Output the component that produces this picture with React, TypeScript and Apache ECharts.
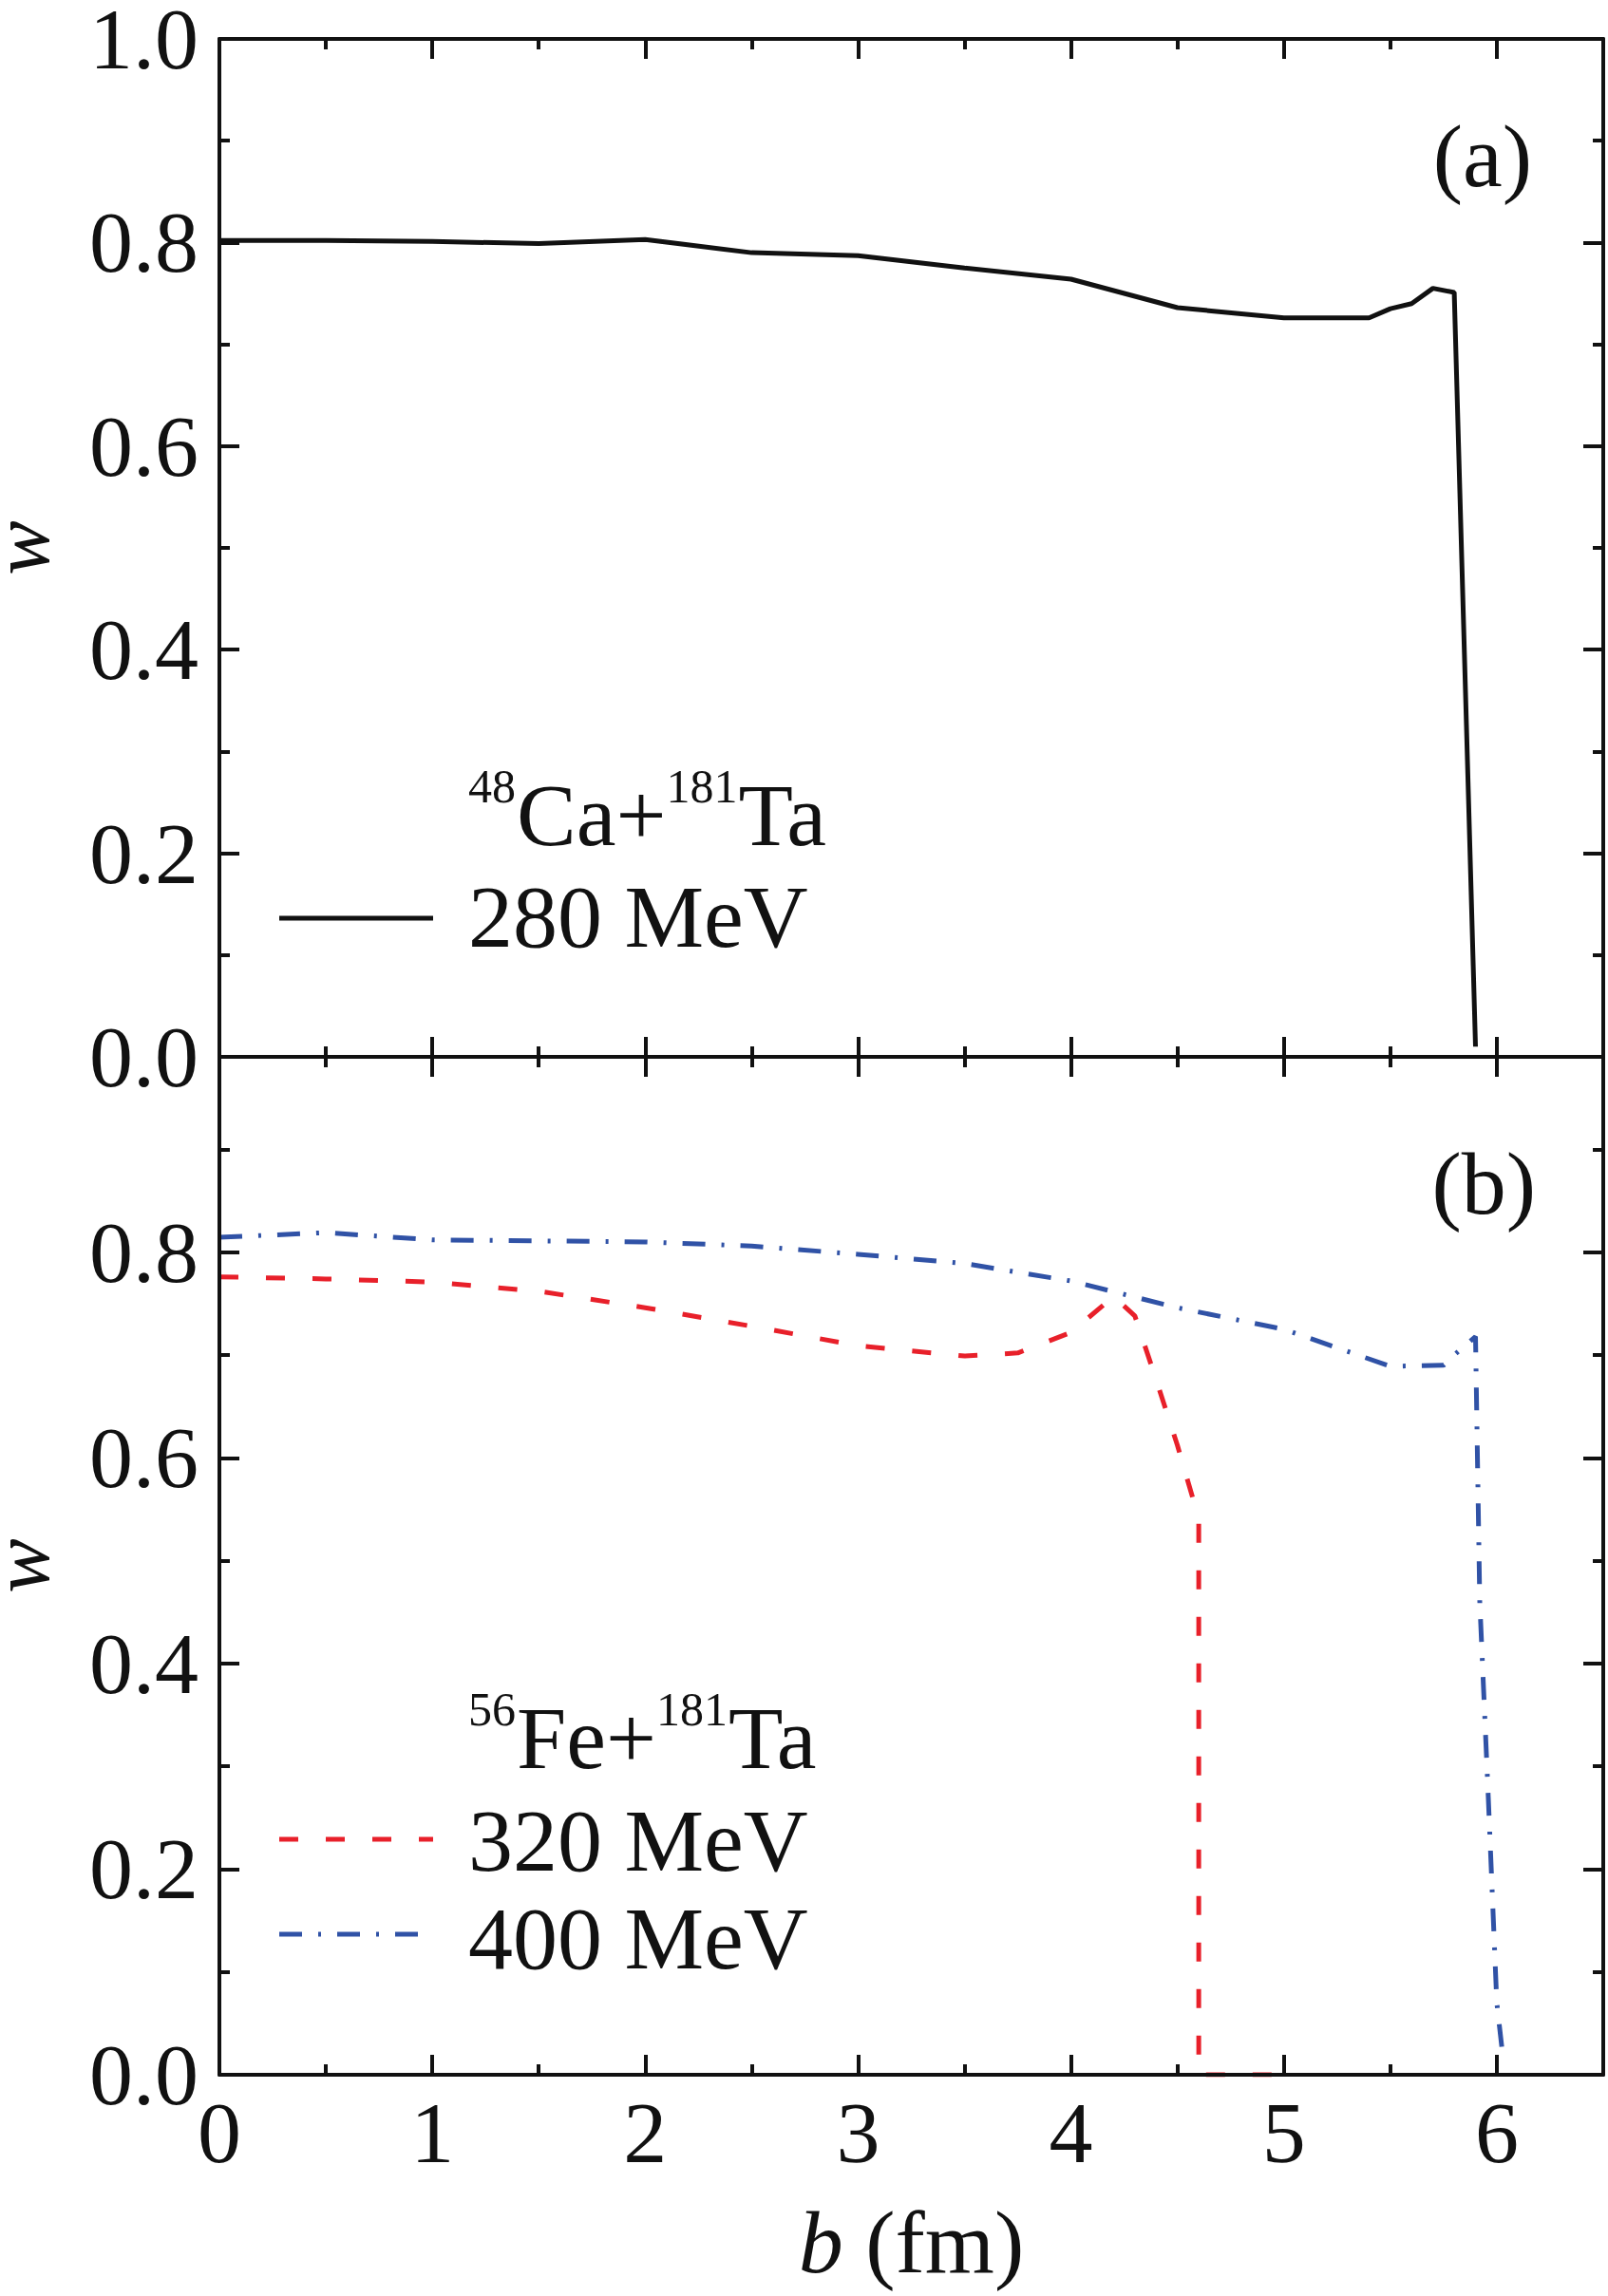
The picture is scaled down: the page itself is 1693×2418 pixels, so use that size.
import React, { useEffect, useRef } from 'react';
import * as echarts from 'echarts';

const FONT = '"Liberation Serif", "Times New Roman", Times, serif';
const INK = '#111111';
const RED = '#E8202A';
const BLUE = '#3052A6';

// Panel (a): 48Ca + 181Ta, 280 MeV
const bA280 = [0, 0.5, 1, 1.5, 2, 2.5, 3, 3.5, 4, 4.5, 5, 5.4, 5.5, 5.6, 5.7, 5.8, 5.9];
const wA280 = [0.802, 0.802, 0.801, 0.799, 0.803, 0.79, 0.787, 0.775, 0.764, 0.736, 0.726, 0.726, 0.735, 0.74, 0.755, 0.751, 0.01];

// Panel (b): 56Fe + 181Ta, 320 MeV
const bB320 = [0, 0.5, 1, 1.5, 2, 2.5, 3, 3.5, 3.75, 4, 4.2, 4.3, 4.4, 4.5, 4.6, 4.6, 4.8, 5.0];
const wB320 = [0.776, 0.774, 0.771, 0.762, 0.746, 0.728, 0.709, 0.699, 0.702, 0.722, 0.757, 0.738, 0.676, 0.612, 0.541, 0, 0, 0];

// Panel (b): 56Fe + 181Ta, 400 MeV
const bB400 = [0, 0.5, 1, 1.5, 2, 2.5, 3, 3.5, 4, 4.5, 5, 5.5, 5.75, 5.8, 5.9, 5.92, 5.96, 6.0, 6.03];
const wB400 = [0.8145, 0.819, 0.812, 0.811, 0.81, 0.806, 0.798, 0.789, 0.772, 0.746, 0.725, 0.689, 0.69, 0.7, 0.718, 0.46, 0.27, 0.07, 0.015];

const yTicksA = [0, 0.2, 0.4, 0.6, 0.8, 1.0];
const yTicksB = [0, 0.2, 0.4, 0.6, 0.8];
const xMax = 6.5;
const yMaxA = 1.0;
const yMaxB = 0.99;

const axisLineCfg = { show: true, onZero: false, lineStyle: { color: INK, width: 4 } };
const tickCfg = { show: true, inside: true, length: 21, lineStyle: { color: INK, width: 4 } };
const minorCfg = { show: true, splitNumber: 2, length: 11, lineStyle: { color: INK, width: 4 } };

function xAxisCfg(gridIndex: number, position: string, showLabel: boolean, withName: boolean) {
  return {
    type: 'value',
    gridIndex,
    position,
    min: 0,
    max: xMax,
    interval: 1,
    z: 5,
    axisLine: axisLineCfg,
    axisTick: tickCfg,
    minorTick: minorCfg,
    splitLine: { show: false },
    axisLabel: showLabel
      ? {
          show: true,
          margin: 21,
          fontSize: 92,
          lineHeight: 80,
          fontFamily: FONT,
          color: INK,
          showMaxLabel: false,
          formatter: (v: number) => String(v),
        }
      : { show: false },
    name: withName ? '{i|b} (fm)' : '',
    nameLocation: 'middle',
    nameGap: 136,
    nameTextStyle: {
      fontSize: 94,
      lineHeight: 80,
      fontFamily: FONT,
      color: INK,
      rich: { i: { fontStyle: 'italic', fontSize: 94, lineHeight: 80, fontFamily: FONT, color: INK } },
    },
  };
}

function yAxisCfg(gridIndex: number, position: string, max: number, ticks: number[], showLabel: boolean) {
  return {
    type: 'value',
    gridIndex,
    position,
    min: 0,
    max,
    interval: 0.2,
    z: 5,
    axisLine: axisLineCfg,
    axisTick: { ...tickCfg, customValues: ticks },
    minorTick: minorCfg,
    splitLine: { show: false },
    axisLabel: showLabel
      ? {
          show: true,
          customValues: ticks,
          margin: 22,
          fontSize: 92,
          lineHeight: 72,
          fontFamily: FONT,
          color: INK,
          formatter: (v: number) => v.toFixed(1),
        }
      : { show: false },
    name: showLabel ? 'w' : '',
    nameLocation: 'middle',
    nameGap: 194,
    nameTextStyle: { fontSize: 86, lineHeight: 30, fontStyle: 'italic', fontFamily: FONT, color: INK },
  };
}

function measure(text: string, size: number): number {
  const ctx = document.createElement('canvas').getContext('2d');
  if (!ctx) return text.length * size * 0.5;
  ctx.font = `${size}px "Liberation Serif"`;
  return ctx.measureText(text).width;
}

const MAIN = 94;
const SUP = 50;
const SUP_RISE = 30;

function heading(parts: [string, boolean][], x0: number, yMid: number) {
  const els: any[] = [];
  let x = x0;
  for (const [t, sup] of parts) {
    const size = sup ? SUP : MAIN;
    els.push({
      type: 'text',
      x,
      y: sup ? yMid - SUP_RISE : yMid,
      style: {
        text: t,
        fontSize: size,
        lineHeight: sup ? 30 : 66,
        fontFamily: FONT,
        fill: INK,
        align: 'left',
        verticalAlign: 'middle',
      },
    });
    x += measure(t, size) + (sup ? 1 : 0);
  }
  return els;
}

function label(text: string, x: number, y: number, align = 'left') {
  return {
    type: 'text',
    x,
    y,
    style: { text, fontSize: MAIN, lineHeight: 66, fontFamily: FONT, fill: INK, align, verticalAlign: 'middle' },
  };
}

function sample(y: number, color: string, dash: number[] | null, x1 = 294, x2 = 456) {
  return {
    type: 'line',
    shape: { x1, y1: y, x2, y2: y },
    style: { stroke: color, lineWidth: 5, lineDash: dash || undefined },
  };
}

export default function App() {
  const ref = useRef<HTMLDivElement>(null);
  useEffect(() => {
    if (!ref.current) return;
    const chart = echarts.init(ref.current, null, { renderer: 'svg' });
    const option: any = {
      animation: false,
      backgroundColor: '#ffffff',
      grid: [
        { left: 231, right: 5, top: 41, height: 1072, containLabel: false, outerBoundsMode: 'none' },
        { left: 231, right: 5, top: 1113, height: 1072, containLabel: false, outerBoundsMode: 'none' },
      ],
      xAxis: [
        xAxisCfg(0, 'bottom', false, false),
        xAxisCfg(0, 'top', false, false),
        xAxisCfg(1, 'bottom', true, true),
        xAxisCfg(1, 'top', false, false),
      ],
      yAxis: [
        yAxisCfg(0, 'left', yMaxA, yTicksA, true),
        yAxisCfg(0, 'right', yMaxA, yTicksA, false),
        yAxisCfg(1, 'left', yMaxB, yTicksB, true),
        yAxisCfg(1, 'right', yMaxB, yTicksB, false),
      ],
      series: [
        {
          name: '280 MeV',
          type: 'line',
          xAxisIndex: 0,
          yAxisIndex: 0,
          symbol: 'none',
          data: bA280.map((b, i) => [b, wA280[i]]),
          lineStyle: { color: INK, width: 5 },
        },
        {
          name: '320 MeV',
          type: 'line',
          xAxisIndex: 2,
          yAxisIndex: 2,
          symbol: 'none',
          data: bB320.map((b, i) => [b, wB320[i]]),
          lineStyle: { color: RED, width: 5, type: [20, 29], cap: 'butt' },
        },
        {
          name: '400 MeV',
          type: 'line',
          xAxisIndex: 2,
          yAxisIndex: 2,
          symbol: 'none',
          data: bB400.map((b, i) => [b, wB400[i]]),
          lineStyle: { color: BLUE, width: 5, type: [24, 17, 3, 17], cap: 'butt' },
        },
      ],
      graphic: [
        ...heading([['48', true], ['Ca+', false], ['181', true], ['Ta', false]], 493, 858),
        sample(967, INK, null),
        label('280 MeV', 493, 965),
        label('(a)', 1613, 164, 'right'),
        ...heading([['56', true], ['Fe+', false], ['181', true], ['Ta', false]], 493, 1830),
        sample(1937, RED, [20, 29]),
        label('320 MeV', 493, 1938),
        sample(2037, BLUE, [24, 17, 3, 17]),
        label('400 MeV', 493, 2041),
        label('(b)', 1617, 1246, 'right'),
      ],
    };
    chart.setOption(option);
    return () => chart.dispose();
  }, []);
  return (
    <div
      ref={ref}
      style={{ position: 'absolute', left: 0, top: 0, width: 1693, height: 2418, background: '#fff' }}
    />
  );
}
